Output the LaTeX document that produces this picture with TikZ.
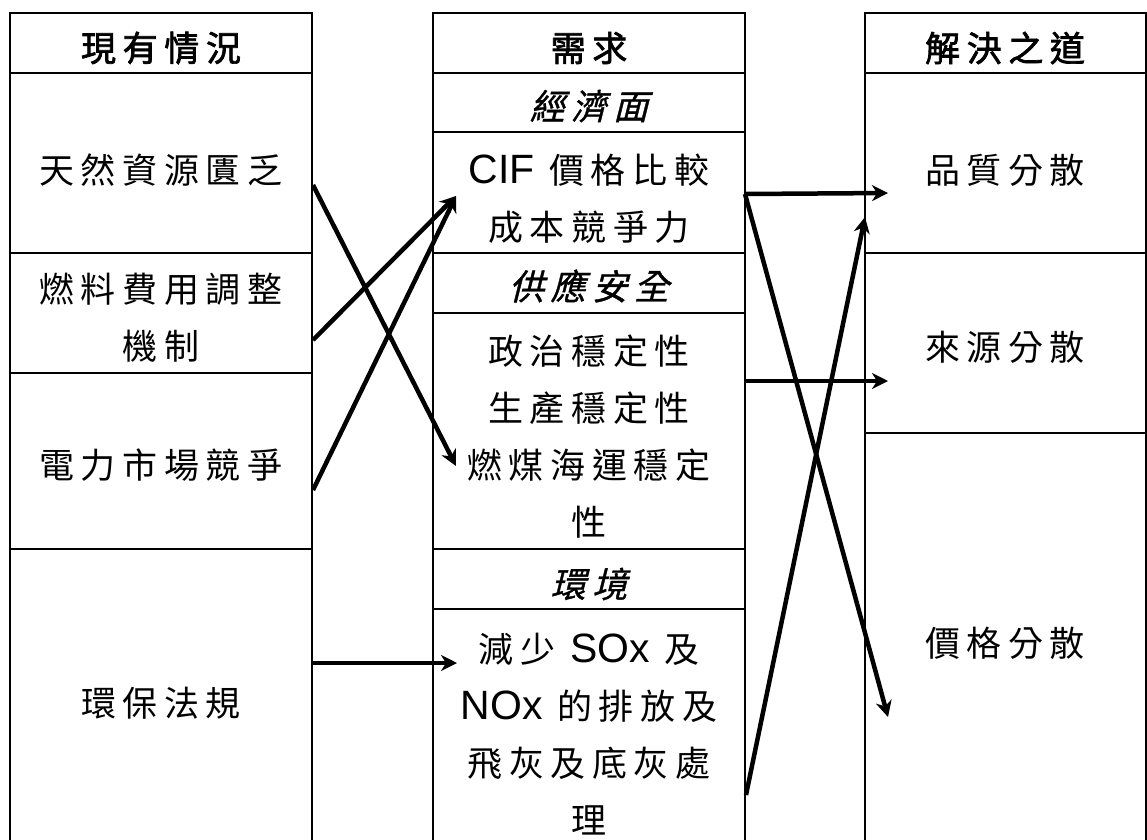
\documentclass[tikz,border=0pt]{standalone}
\usepackage{fontspec}
\setmainfont[LetterSpace=19]{Noto Sans CJK TC}
\newfontfamily\lat[Scale=1.17]{Liberation Sans}
\newfontfamily\cjkb[LetterSpace=19,FakeBold=2]{Noto Sans CJK TC}
\newfontfamily\cjki[LetterSpace=19,FakeSlant=0.25,FakeBold=1]{Noto Sans CJK TC}
\usetikzlibrary{arrows.meta}
\begin{document}
\begin{tikzpicture}[x=1pt,y=-1pt,
  cell/.style={draw, line width=2pt, rectangle, inner sep=0pt, outer sep=0pt, anchor=north west},
  txt/.style={align=center, font=\fontsize{35}{57}\selectfont, inner sep=0pt},
  arr/.style={line width=4.5pt, -{Stealth[length=16pt,width=16pt,inset=5pt]}}]
\clip (0,0) rectangle (1147,839);
\fill[white] (0,0) rectangle (1147,839);
% left column
\node[cell, minimum width=302pt, minimum height=60pt]  (L0) at (10,13) {};
\node[cell, minimum width=302pt, minimum height=180pt] (L1) at (10,73) {};
\node[cell, minimum width=302pt, minimum height=120pt] (L2) at (10,253) {};
\node[cell, minimum width=302pt, minimum height=176pt] (L3) at (10,373) {};
\node[cell, minimum width=302pt, minimum height=301pt] (L4) at (10,549) {};
% middle column
\node[cell, minimum width=312pt, minimum height=60pt]  (M0) at (433,13) {};
\node[cell, minimum width=312pt, minimum height=59pt]  (M1) at (433,73) {};
\node[cell, minimum width=312pt, minimum height=121pt] (M2) at (433,132) {};
\node[cell, minimum width=312pt, minimum height=60pt]  (M3) at (433,253) {};
\node[cell, minimum width=312pt, minimum height=236pt] (M4) at (433,313) {};
\node[cell, minimum width=312pt, minimum height=60pt]  (M5) at (433,549) {};
\node[cell, minimum width=312pt, minimum height=241pt] (M6) at (433,609) {};
% right column
\node[cell, minimum width=281pt, minimum height=60pt]  (R0) at (865,13) {};
\node[cell, minimum width=281pt, minimum height=180pt] (R1) at (865,73) {};
\node[cell, minimum width=281pt, minimum height=180pt] (R2) at (865,253) {};
\node[cell, minimum width=281pt, minimum height=417pt] (R3) at (865,433) {};
% texts
\node[txt] (tL0) at (161,48) {\cjkb 現有情況};
\node[txt] (tL1) at (161,170) {天然資源匱乏};
\node[txt] (tL2) at (161,318) {燃料費用調整\\機制};
\node[txt] (tL3) at (161,465) {電力市場競爭};
\node[txt] (tL4) at (161,703) {環保法規};
\node[txt] (tM0) at (589,48) {\cjkb 需求};
\node[txt] (tM1) at (589,106) {\cjki 經濟面};
\node[txt] (tM2) at (589,199) {{\lat CIF} 價格比較\\成本競爭力};
\node[txt] (tM3) at (589,286) {\cjki 供應安全};
\node[txt] (tM4) at (589,437) {政治穩定性\\生產穩定性\\燃煤海運穩定\\性};
\node[txt] (tM5) at (589,584) {\cjki 環境};
\node[txt] (tM6) at (589,734) {減少 {\lat SOx} 及\\{\lat NOx} 的排放及\\飛灰及底灰處\\理};
\node[txt] (tR0) at (1005,48) {\cjkb 解決之道};
\node[txt] (tR1) at (1005,170) {品質分散};
\node[txt] (tR2) at (1005,347) {來源分散};
\node[txt] (tR3) at (1005,643) {價格分散};
% connector end points
\coordinate (a1s) at (313,185);
\coordinate (a1e) at (456,466);
\coordinate (a2s) at (313,340);
\coordinate (a2e) at (456,196);
\coordinate (a3s) at (313,490);
\coordinate (a4s) at (313,663);
\coordinate (a4e) at (457,663);
\coordinate (b1s) at (745,194);
\coordinate (b1e) at (888,193);
\coordinate (b2s) at (745,381);
\coordinate (b2e) at (888,381);
\coordinate (b3e) at (888,717);
\coordinate (b4s) at (746,795);
\coordinate (b4e) at (865,217);
\draw[arr] (a1s) -- (a1e);
\draw[arr] (a2s) -- (a2e);
\draw[arr] (a3s) -- (a2e);
\draw[arr] (a4s) -- (a4e);
\draw[arr] (b1s) -- (b1e);
\draw[arr] (b2s) -- (b2e);
\draw[arr] (b1s) -- (b3e);
\draw[arr] (b4s) -- (b4e);
\end{tikzpicture}
\end{document}
